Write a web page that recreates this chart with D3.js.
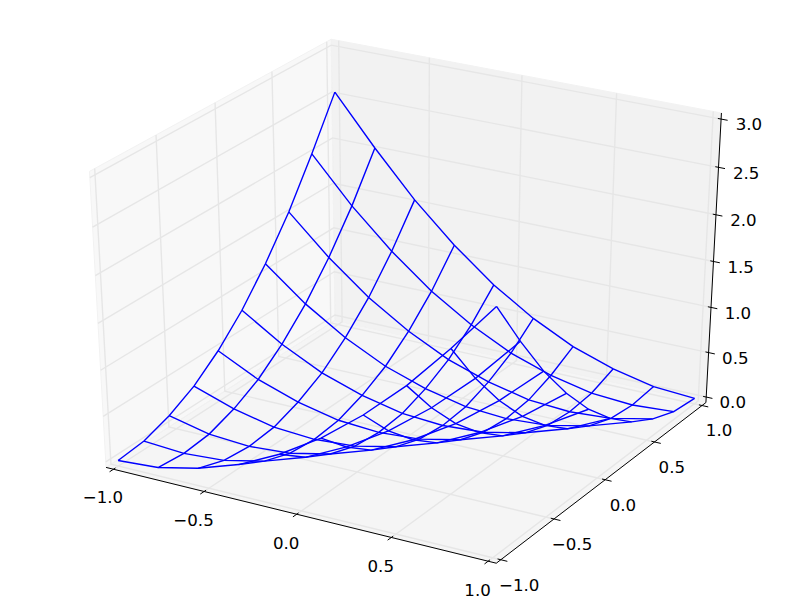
<!DOCTYPE html>
<html>
<head>
<meta charset="utf-8">
<script src="https://d3js.org/d3.v7.min.js"></script>
<style>
  html, body { margin: 0; padding: 0; background: #fff; }
  text { font-family: "DejaVu Sans", sans-serif; font-size: 16.67px; fill: #000; }
</style>
</head>
<body>
<div id="my_dataviz"></div>
<script>

// grid positions of the wireframe
var gridX = [-1, -0.778, -0.556, -0.333, -0.111, 0.111, 0.333, 0.556, 0.778, 1];
var gridY = [-1, -0.778, -0.556, -0.333, -0.111, 0.111, 0.333, 0.556, 0.778, 1];

// z, one row per gridY value
var zRows = [
  [0.00, 0.03, 0.13, 0.28, 0.50, 0.78, 1.13, 1.54, 2.02, 2.54],
  [0.03, 0.00, 0.03, 0.13, 0.28, 0.50, 0.78, 1.13, 1.54, 2.02],
  [0.13, 0.03, 0.00, 0.03, 0.13, 0.28, 0.50, 0.78, 1.13, 1.54],
  [0.28, 0.13, 0.03, 0.00, 0.03, 0.13, 0.28, 0.50, 0.78, 1.13],
  [0.50, 0.28, 0.13, 0.03, 0.00, 0.03, 0.13, 0.28, 0.50, 0.78],
  [0.78, 0.50, 0.28, 0.13, 0.03, 0.00, 0.03, 0.13, 0.28, 0.50],
  [1.13, 0.78, 0.50, 0.28, 0.13, 0.03, 0.00, 0.03, 0.13, 0.28],
  [1.54, 1.13, 0.78, 0.50, 0.28, 0.13, 0.03, 0.00, 0.03, 0.13],
  [2.02, 1.54, 1.13, 0.78, 0.50, 0.28, 0.13, 0.03, 0.00, 0.03],
  [2.54, 2.02, 1.54, 1.13, 0.78, 0.50, 0.28, 0.13, 0.03, 0.00]
];

// tick labels
var xTicks = [-1, -0.5, 0, 0.5, 1];
var yTicks = [-1, -0.5, 0, 0.5, 1];
var zTicks = [0, 0.5, 1, 1.5, 2, 2.5, 3];

var width = 800, height = 600;
var xLim = [-1, 1], yLim = [-1, 1], zLim = [0, 3];

var svg = d3.select("#my_dataviz")
  .append("svg")
  .attr("width", width)
  .attr("height", height);

// data to unit cube
var xScale = d3.scaleLinear().domain(xLim).range([0, 1]);
var yScale = d3.scaleLinear().domain(yLim).range([0, 1]);
var zScale = d3.scaleLinear().domain(zLim).range([0, 1]);

// camera, same defaults as an mplot3d axes (elev 30, azim -60, dist 10)
var elev = 30 * Math.PI / 180, azim = -60 * Math.PI / 180, dist = 10;
var n = [Math.cos(azim) * Math.cos(elev), Math.sin(azim) * Math.cos(elev), Math.sin(elev)];
var eye = n.map(function(d) { return 0.5 + dist * d; });
var u = [-n[1], n[0], 0];
var uLen = Math.hypot(u[0], u[1]);
u = u.map(function(d) { return d / uLen; });
var v = [n[1] * u[2] - n[2] * u[1], n[2] * u[0] - n[0] * u[2], n[0] * u[1] - n[1] * u[0]];

function dot(a, b) { return a[0] * b[0] + a[1] * b[1] + a[2] * b[2]; }

// screen scales for the projected coordinates
var screenX = d3.scaleLinear().domain([-0.95 / dist, 0.9 / dist]).range([0, width]);
var screenY = d3.scaleLinear().domain([-0.95 / dist, 0.9 / dist]).range([height, 0]);

function project(p) {
  var d = [xScale(p[0]) - eye[0], yScale(p[1]) - eye[1], zScale(p[2]) - eye[2]];
  var w = -dot(n, d);
  return [screenX(dot(u, d) / w), screenY(dot(v, d) / w)];
}

var line3d = d3.line().x(function(p) { return project(p)[0]; }).y(function(p) { return project(p)[1]; });

// box is padded by a quarter of a twelfth of each range
var dx = (xLim[1] - xLim[0]) / 12, dy = (yLim[1] - yLim[0]) / 12, dz = (zLim[1] - zLim[0]) / 12;
var x0 = xLim[0] - dx / 4, x1 = xLim[1] + dx / 4;
var y0 = yLim[0] - dy / 4, y1 = yLim[1] + dy / 4;
var z0 = zLim[0] - dz / 4, z1 = zLim[1] + dz / 4;

// panes
var panes = [
  {pts: [[x0, y0, z0], [x0, y1, z0], [x0, y1, z1], [x0, y0, z1]], fill: "rgb(242,242,242)"},
  {pts: [[x0, y1, z0], [x1, y1, z0], [x1, y1, z1], [x0, y1, z1]], fill: "rgb(230,230,230)"},
  {pts: [[x0, y0, z0], [x1, y0, z0], [x1, y1, z0], [x0, y1, z0]], fill: "rgb(236,236,236)"}
];
svg.append("g").selectAll("path")
  .data(panes)
  .enter()
  .append("path")
  .attr("d", function(d) { return line3d(d.pts) + "Z"; })
  .style("fill", function(d) { return d.fill; })
  .style("fill-opacity", 0.5)
  .style("stroke", "rgb(242,242,242)")
  .style("stroke-width", 1);

// grid lines
var grid = svg.append("g").style("fill", "none").style("stroke", "rgb(230,230,230)").style("stroke-width", 1.39);
xTicks.forEach(function(t) {
  grid.append("path").attr("d", line3d([[t, y0, z0], [t, y1, z0], [t, y1, z1]]));
});
yTicks.forEach(function(t) {
  grid.append("path").attr("d", line3d([[x1, t, z0], [x0, t, z0], [x0, t, z1]]));
});
zTicks.forEach(function(t) {
  grid.append("path").attr("d", line3d([[x0, y0, t], [x0, y1, t], [x1, y1, t]]));
});

// axis lines
var axes = svg.append("g").style("fill", "none").style("stroke", "#000").style("stroke-width", 1);
axes.append("path").attr("d", line3d([[x0, y0, z0], [x1, y0, z0]]));
axes.append("path").attr("d", line3d([[x1, y0, z0], [x1, y1, z0]]));
axes.append("path").attr("d", line3d([[x1, y1, z0], [x1, y1, z1]]));

// ticks and labels, offsets follow mplot3d's tick factors
var fmt = d3.format(".1f");
var pad = 12 * 48 / 1008;

function addTick(outer, inner, labelPos, label) {
  axes.append("path").attr("d", line3d([outer, inner]));
  var p = project(labelPos);
  svg.append("text")
    .attr("x", p[0])
    .attr("y", p[1] + 8)
    .attr("dy", "0.36em")
    .attr("text-anchor", "middle")
    .text(label);
}
xTicks.forEach(function(t) {
  addTick([t, y0 - 0.2 * dy, z0], [t, y0 + 0.1 * dy, z0], [t, y0 - pad * dy, z0 - pad * dz], fmt(t));
});
yTicks.forEach(function(t) {
  addTick([x1 + 0.2 * dx, t, z0], [x1 - 0.1 * dx, t, z0], [x1 + pad * dx, t, z0 - pad * dz], fmt(t));
});
zTicks.forEach(function(t) {
  addTick([x1 + 0.2 * dx, y1, t], [x1 - 0.1 * dx, y1, t], [x1 + pad * dx, y1 + pad * dy, t], fmt(t));
});

// wireframe, one line per row and one per column
var wire = svg.append("g").style("fill", "none").style("stroke", "#0000ff").style("stroke-width", 1.39);
gridY.forEach(function(y, i) {
  wire.append("path").attr("d", line3d(gridX.map(function(x, j) { return [x, y, zRows[i][j]]; })));
});
gridX.forEach(function(x, j) {
  wire.append("path").attr("d", line3d(gridY.map(function(y, i) { return [x, y, zRows[i][j]]; })));
});

</script>
</body>
</html>
